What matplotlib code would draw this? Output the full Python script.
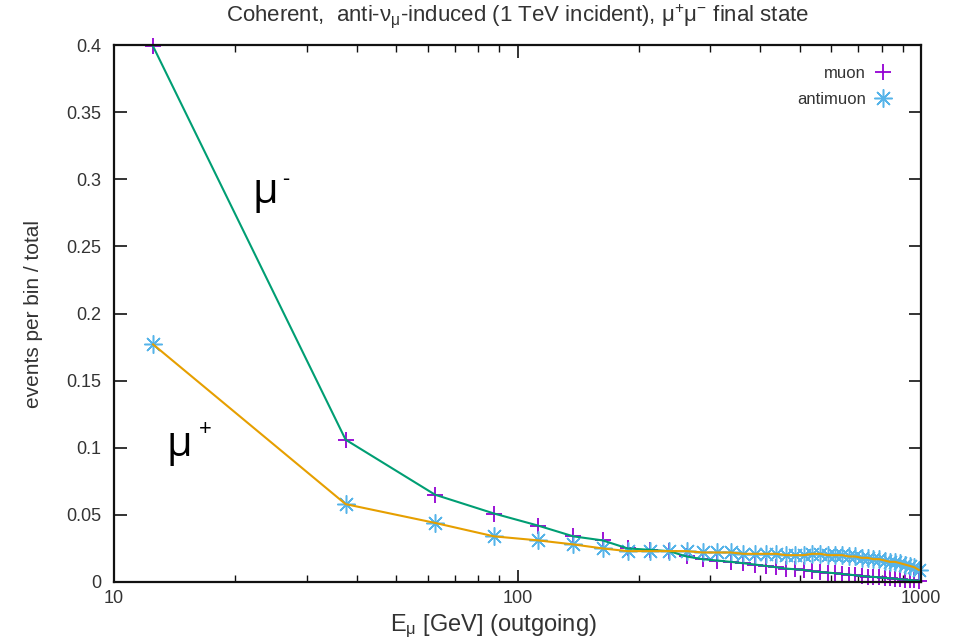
import matplotlib
matplotlib.use('Agg')
import matplotlib.pyplot as plt
from matplotlib import ticker
from matplotlib.lines import Line2D

plt.rcParams['font.family'] = ['Liberation Sans', 'DejaVu Sans']
plt.rcParams['mathtext.fontset'] = 'custom'
plt.rcParams['mathtext.rm'] = 'Liberation Sans'
plt.rcParams['mathtext.it'] = 'Liberation Sans'
plt.rcParams['mathtext.default'] = 'regular'

# bin centres, 25 GeV bins
energy = [12.5, 37.5, 62.5, 87.5, 112.5, 137.5, 162.5, 187.5, 212.5, 237.5,
          262.5, 287.5, 312.5, 337.5, 362.5, 387.5, 412.5, 437.5, 462.5, 487.5,
          512.5, 537.5, 562.5, 587.5, 612.5, 637.5, 662.5, 687.5, 712.5, 737.5,
          762.5, 787.5, 812.5, 837.5, 862.5, 887.5, 912.5, 937.5, 962.5, 987.5]

muon = [0.399, 0.106, 0.065, 0.051, 0.042, 0.034, 0.031, 0.025, 0.024, 0.023,
        0.019, 0.017, 0.016, 0.015, 0.014, 0.013, 0.012, 0.011, 0.010, 0.0095,
        0.009, 0.008, 0.0075, 0.007, 0.0065, 0.006, 0.0055, 0.005, 0.0045, 0.004,
        0.0038, 0.0035, 0.003, 0.0028, 0.0025, 0.002, 0.0018, 0.0015, 0.0012, 0.001]

antimuon = [0.177, 0.058, 0.044, 0.034, 0.031, 0.028, 0.025, 0.023, 0.023, 0.023,
            0.023, 0.022, 0.022, 0.022, 0.021, 0.021, 0.021, 0.021, 0.020, 0.020,
            0.020, 0.021, 0.021, 0.020, 0.020, 0.020, 0.019, 0.019, 0.018, 0.018,
            0.017, 0.017, 0.016, 0.015, 0.015, 0.014, 0.013, 0.012, 0.011, 0.009]

c_mu_pt = '#9400d3'
c_amu_pt = '#56b4e9'
c_mu_line = '#009e73'
c_amu_line = '#e69f00'
star = (8, 2, 0)
txt = '#333333'

fig = plt.figure(figsize=(9.6, 6.44), dpi=100)
ax = fig.add_axes([114/960, 1-582/644, (921-114)/960, (582-45)/644])

# points first, lines on top
ax.plot(energy, muon, ls='none', marker='+', ms=11, mew=1.3, color=c_mu_pt, clip_on=False)
ax.plot(energy, antimuon, ls='none', marker=star, ms=13, mew=1.1, color=c_amu_pt, clip_on=False)
ax.plot(energy, muon, color=c_mu_line, lw=1.5)
ax.plot(energy, antimuon, color=c_amu_line, lw=1.5)

ax.set_xscale('log')
ax.set_xlim(10, 1000)
ax.set_ylim(0, 0.4)
ax.set_xticks([10, 100, 1000])
ax.set_xticklabels(['10', '100', '1000'])
ax.xaxis.set_minor_locator(ticker.LogLocator(base=10, subs=range(2, 10)))
ax.xaxis.set_minor_formatter(ticker.NullFormatter())
ax.set_yticks([0, 0.05, 0.1, 0.15, 0.2, 0.25, 0.3, 0.35, 0.4])
ax.set_yticklabels(['0', '0.05', '0.1', '0.15', '0.2', '0.25', '0.3', '0.35', '0.4'])

ax.tick_params(which='both', direction='in', top=True, right=True,
               labelsize=13, labelcolor=txt, color='#111111')
ax.tick_params(which='major', length=9, width=1.2)
ax.tick_params(axis='y', pad=9)
ax.tick_params(axis='x', pad=6)
ax.tick_params(which='minor', length=5, width=1.0)
for s in ax.spines.values():
    s.set_linewidth(1.6)
    s.set_color('#111111')

ax.set_title(r'Coherent,  anti-$\nu_{\mu}$-induced (1 TeV incident), $\mu^{+}\mu^{-}$ final state',
             fontsize=16, pad=17, color=txt)
ax.set_xlabel(r'E$_{\mu}$ [GeV] (outgoing)', fontsize=17, color=txt)
ax.xaxis.set_label_coords(0.47, -0.057)
ax.set_ylabel('events per bin / total', fontsize=15, color=txt, labelpad=17)

handles = [Line2D([], [], ls='none', marker='+', ms=11, mew=1.3, color=c_mu_pt),
           Line2D([], [], ls='none', marker=star, ms=13, mew=1.1, color=c_amu_pt)]
ax.legend(handles, ['muon', 'antimuon'], loc='upper right', frameon=False,
          bbox_to_anchor=(0.976, 0.973), borderaxespad=0, markerfirst=False,
          fontsize=12, handlelength=1.4, handletextpad=0.35,
          labelspacing=0.65, labelcolor=txt)

# particle labels
lab_font = ['Open Sans', 'DejaVu Sans']
ax.text(22.0, 0.282, 'μ', fontsize=30, family=lab_font, va='baseline')
ax.text(26.1, 0.300, '-', fontsize=16, family=lab_font, va='center')
ax.text(13.5, 0.094, 'μ', fontsize=30, family=lab_font, va='baseline')
ax.text(16.2, 0.1135, '+', fontsize=16, family=lab_font, va='center')

fig.savefig('out.png', dpi=100)
